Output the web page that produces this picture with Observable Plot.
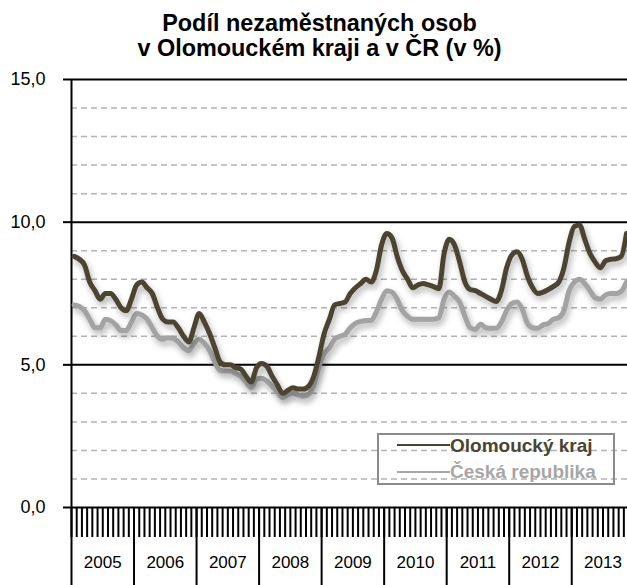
<!DOCTYPE html>
<html><head><meta charset="utf-8">
<script src="https://cdn.jsdelivr.net/npm/d3@7"></script>
<script src="https://cdn.jsdelivr.net/npm/@observablehq/plot@0.6"></script>
<style>
body{margin:0;background:#fff;font-family:"Liberation Sans",Arial,sans-serif;}
#wrap{position:relative;width:627px;height:585px;overflow:hidden;background:#fff;}
#title{position:absolute;left:12px;top:11px;width:615px;text-align:center;font-weight:bold;font-size:23.4px;line-height:25px;color:#000;}
#chart{position:absolute;left:0;top:62px;}
#legend{position:absolute;left:377px;top:433px;width:234px;height:48px;border:2px solid #8c8c8c;}
.lg{position:absolute;font-weight:bold;font-size:19px;line-height:19px;white-space:nowrap;}
.sw{position:absolute;height:0;}
svg g[aria-label="line"]{filter:drop-shadow(2px 4px 3px rgba(0,0,0,0.32));}
</style></head><body>
<div id="wrap">
<div id="title">Podíl nezaměstnaných osob<br>v Olomouckém kraji a v ČR (v %)</div>
<div id="chart"></div>
<div id="legend"></div>
<div class="sw" style="left:397px;top:444px;width:53px;border-top:2px solid #4b4431"></div>
<div class="lg" style="left:450px;top:436px;color:#4b4431">Olomoucký kraj</div>
<div class="sw" style="left:397px;top:471px;width:53px;border-top:2px solid #a6a6a6"></div>
<div class="lg" style="left:450px;top:462px;color:#a6a6a6">Česká republika</div>
</div>
<script>
const years = ["2005","2006","2007","2008","2009","2010","2011","2012","2013"];
const yMajor = [0, 5, 10, 15];
const yMinor = [1, 2, 3, 4, 6, 7, 8, 9, 11, 12, 13, 14];
// monthly values from Jan 2005
const olomoucky = [
 8.8,8.7,8.5,7.9,7.6,7.3,7.5,7.5,7.3,7.0,6.9,7.3,
 7.8,7.9,7.7,7.5,7.0,6.6,6.5,6.5,6.3,6.0,5.8,6.3,
 6.8,6.5,6.1,5.6,5.1,5.0,5.0,4.9,4.85,4.6,4.4,4.9,
 5.05,4.95,4.6,4.3,4.0,4.1,4.2,4.15,4.15,4.25,4.6,5.3,
 6.1,6.6,7.1,7.15,7.2,7.5,7.7,7.85,8.0,7.9,8.3,9.2,
 9.6,9.45,8.8,8.3,8.0,7.7,7.8,7.85,7.8,7.74,7.67,8.9,
 9.4,9.2,8.6,7.9,7.64,7.6,7.5,7.4,7.3,7.22,7.6,8.4,
 8.85,8.96,8.7,8.1,7.7,7.5,7.55,7.64,7.75,7.9,8.4,9.3,
 9.85,9.9,9.4,8.9,8.6,8.4,8.65,8.7,8.72,8.8,9.6
];
const ceskaRepublika = [
 7.1,7.05,6.9,6.6,6.3,6.3,6.6,6.55,6.4,6.2,6.2,6.5,
 6.8,6.75,6.6,6.3,6.0,5.9,5.95,5.93,5.8,5.6,5.5,5.75,
 5.9,5.75,5.5,5.1,4.8,4.78,4.78,4.7,4.6,4.4,4.2,4.5,
 4.53,4.43,4.25,4.05,3.85,3.95,4.0,3.95,3.9,3.97,4.3,4.95,
 5.4,5.6,5.9,6.0,6.07,6.3,6.45,6.52,6.55,6.56,6.85,7.3,
 7.6,7.55,7.3,6.9,6.7,6.6,6.6,6.6,6.6,6.6,6.65,7.3,
 7.55,7.4,7.2,6.7,6.3,6.24,6.42,6.3,6.28,6.28,6.5,6.9,
 7.15,7.2,6.95,6.45,6.3,6.28,6.4,6.45,6.6,6.65,6.9,7.6,
 7.9,8.0,7.85,7.6,7.35,7.3,7.45,7.5,7.5,7.57,7.9
];
const data = olomoucky.map((v, i) => ({m: i + 0.5, o: v, c: ceskaRepublika[i]}));
const monthTicks = d3.range(0, years.length * 12 + 1);
const yearStarts = years.map((y, i) => i * 12);
const yearMids = years.map((y, i) => i * 12 + 6);
const fmt = d => d.toFixed(1).replace(".", ",");

const chart = Plot.plot({
  width: 627, height: 523,
  marginLeft: 71, marginRight: 0, marginTop: 17, marginBottom: 78,
  style: {fontFamily: "Liberation Sans, Arial, sans-serif", background: "transparent", color: "#000", overflow: "hidden"},
  x: {domain: [0, 106.7], label: null},
  y: {domain: [0, 15], label: null},
  marks: [
    Plot.ruleY(yMinor, {stroke: "#b3b3b3", strokeWidth: 1.5, strokeDasharray: "6,4"}),
    Plot.ruleY(yMajor, {stroke: "#000", strokeWidth: 2}),
    Plot.axisY(yMajor, {tickSize: 8, tickPadding: 18, fontSize: 18, tickFormat: fmt, strokeWidth: 2}),
    Plot.axisX(monthTicks, {tickSize: 30, tickFormat: () => "", strokeWidth: 2}),
    Plot.axisX(yearStarts, {tickSize: 78, tickFormat: () => "", strokeWidth: 2}),
    Plot.axisX(yearMids, {tickSize: 0, tickPadding: 48, fontSize: 17, tickFormat: d => years[Math.floor(d / 12)]}),
    Plot.ruleX([0], {stroke: "#000", strokeWidth: 2}),
    Plot.line(data, {x: "m", y: "c", stroke: "#a3a3a3", strokeWidth: 5, curve: "monotone-x"}),
    Plot.line(data, {x: "m", y: "o", stroke: "#4b4431", strokeWidth: 5, curve: "monotone-x"})
  ]
});
document.getElementById("chart").appendChild(chart);
</script>
</body></html>
